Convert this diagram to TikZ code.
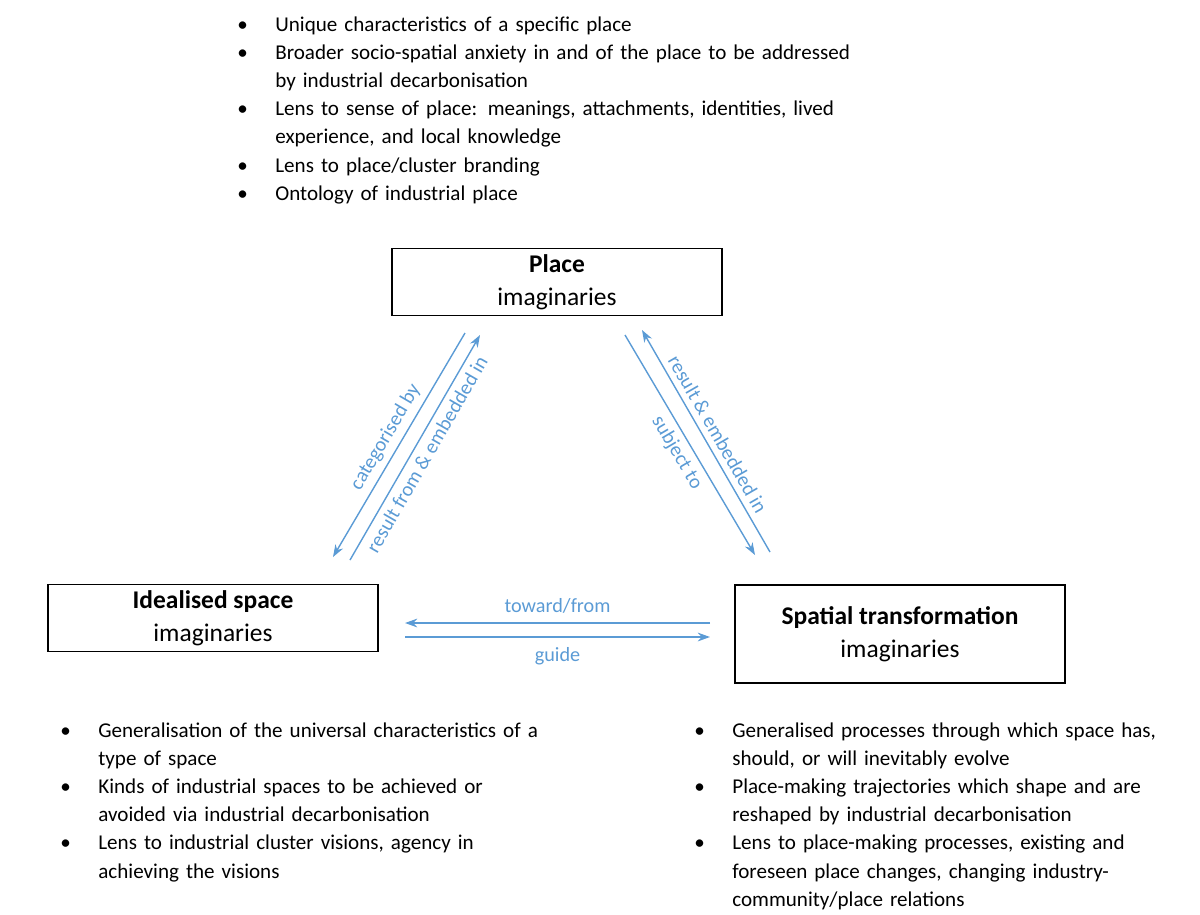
\documentclass[tikz,border=0pt]{standalone}
\usepackage{fontspec}
\setmainfont{Carlito}
\usepackage{enumitem}
\usepackage{xcolor}
\usetikzlibrary{arrows.meta}
\definecolor{linkblue}{RGB}{91,155,213}
\setlist[itemize]{label=\textbullet, leftmargin=0.7cm, labelsep=0.55cm, itemsep=0pt, parsep=0pt, topsep=0pt}
\tikzset{
  imag/.style={draw, thick, minimum width=6.6cm, font=\fontsize{14.5}{19}\selectfont, align=center},
  blist/.style={anchor=north west, inner sep=0pt, align=left, font=\fontsize{12}{16}\selectfont},
  link/.style={linkblue, thick, -{Stealth[length=7pt,width=5pt]}},
  linklabel/.style={font=\fontsize{11.5}{13}\selectfont, text=linkblue, sloped}
}
\begin{document}
\begin{tikzpicture}[x=0.02cm, y=-0.02cm]
  \useasboundingbox (0,0) rectangle (1200,914);
  % the three imaginaries
  \node[imag, minimum height=1.2cm] (place) at (557,282) {\textbf{Place}\\imaginaries};
  \node[imag, minimum height=1.34cm] (ideal) at (213,618) {\textbf{Idealised space}\\imaginaries};
  \node[imag, minimum height=1.96cm] (trans) at (900,634) {\textbf{Spatial transformation}\\imaginaries};
  % arrow ends
  \coordinate (pl1) at (465,333); \coordinate (id1) at (333,557);
  \coordinate (id2) at (350,560); \coordinate (pl2) at (480,335);
  \coordinate (pl3) at (625,335); \coordinate (tr3) at (755,555);
  \coordinate (tr4) at (770,552); \coordinate (pl4) at (642,330);
  \coordinate (tr5) at (710,623); \coordinate (id5) at (405,623);
  \coordinate (id6) at (405,637); \coordinate (tr6) at (710,637);
  \draw[link] (pl1) -- node[linklabel, above] {categorised by} (id1);
  \draw[link] (id2) -- node[linklabel, below] {result from \& embedded in} (pl2);
  \draw[link] (pl3) -- node[linklabel, below] {subject to} (tr3);
  \draw[link] (tr4) -- node[linklabel, above] {result \& embedded in} (pl4);
  \draw[link] (tr5) -- node[linklabel, above=2pt] {toward/from} (id5);
  \draw[link] (id6) -- node[linklabel, below=2pt] {guide} (tr6);
  % bullet lists
  \node[blist, text width=12.6cm] (placelist) at (240,3) {%
    \begin{itemize}
      \item Unique characteristics of a specific place
      \item Broader socio-spatial anxiety in and of the place to be addressed by industrial decarbonisation
      \item Lens to sense of place: meanings, attachments, identities, lived experience, and local knowledge
      \item Lens to place/cluster branding
      \item Ontology of industrial place
    \end{itemize}};
  \node[blist, text width=9.6cm] (ideallist) at (63,709) {%
    \begin{itemize}
      \item Generalisation of the universal characteristics of a type of space
      \item Kinds of industrial spaces to be achieved or avoided via industrial decarbonisation
      \item Lens to industrial cluster visions, agency in achieving the visions
    \end{itemize}};
  \node[blist, text width=9.7cm] (translist) at (697,709) {%
    \begin{itemize}
      \item Generalised processes through which space has, should, or will inevitably evolve
      \item Place-making trajectories which shape and are reshaped by industrial decarbonisation
      \item Lens to place-making processes, existing and foreseen place changes, changing industry-\allowbreak community/place relations
    \end{itemize}};
\end{tikzpicture}
\end{document}
